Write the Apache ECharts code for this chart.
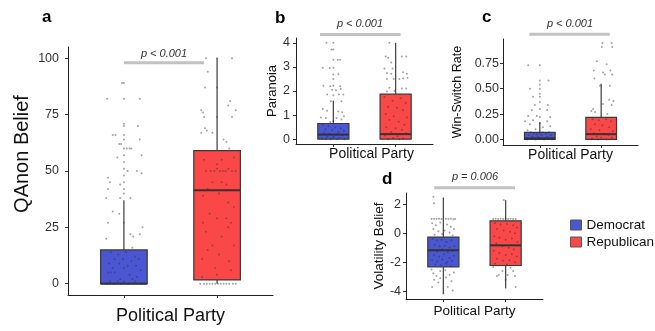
<!DOCTYPE html>
<html><head><meta charset="utf-8">
<script src="https://cdn.jsdelivr.net/npm/echarts@6/dist/echarts.min.js"></script>
<style>html,body{margin:0;padding:0;background:#fff}#c{width:655px;height:331px}</style>
</head><body><div id="c"></div>
<script>
const FONT = '"Liberation Sans", Arial, sans-serif';
const BLUE = '#4a56d2';
const RED = '#fa4848';
const parties = ['Democrat', 'Republican'];
const xTitle = 'Political Party';

// box stats: [x, min, Q1, median, Q3, max]
const qanonBox = [[1, 0, 0, 0, 15, 37], [2, 0, 1.7, 41.5, 59, 100]];
const paranoiaBox = [[1, 0, 0, 0.19, 0.65, 1.6], [2, 0, 0, 0.21, 1.87, 4.0]];
const winSwitchBox = [[1, 0, 0, 0.01, 0.07, 0.17], [2, 0, 0, 0.052, 0.217, 0.55]];
const volatilityBox = [[1, -4.16, -2.31, -1.17, -0.26, 2.46], [2, -3.8, -2.22, -0.83, 0.86, 2.29]];

// tick values
const qanonTicks = [0, 25, 50, 75, 100];
const paranoiaTicks = [0, 1, 2, 3, 4];
const winSwitchTicks = [0, 0.25, 0.5, 0.75];
const volatilityTicks = [-4, -2, 0, 2];

// p-values
const pLabels = ['p < 0.001', 'p < 0.001', 'p < 0.001', 'p = 0.006'];

// significance bars [x, y]
const qanonSig = [[1.0, 98], [1.86, 98]];
const paranoiaSig = [[0.785, 4.35], [2.08, 4.35]];
const winSwitchSig = [[0.83, 1.036], [2.14, 1.036]];
const volatilitySig = [[0.854, 3.15], [2.15, 3.15]];

// jittered individual points [x, value]
const qanonDemPts = [[0.98,89],[1.0,89],[0.82,82],[1.0,82],[1.17,82],[1.0,71],[1.0,70],[1.15,70],[0.88,66],[0.91,66],[1.0,66],[1.0,64],[1.17,64],[0.95,62],[0.97,62],[1.0,60],[1.03,60],[1.06,60],[1.08,60],[1.0,57],[1.19,57],[0.93,56],[1.0,54],[1.0,51],[1.04,50],[1.14,50],[1.19,49],[1.0,48],[0.83,47],[0.85,45],[1.0,45],[0.96,44],[0.83,42],[1.0,42],[1.0,40],[0.81,38],[0.96,38],[1.07,38],[0.88,32],[0.95,31],[0.83,27],[1.0,27],[1.2,25],[1.07,22],[1.17,22],[1.1,21],[0.81,20],[1.09,16],
[0.86,14],[0.94,13],[1.02,14],[1.12,12],[0.9,11],[0.99,11],[1.08,10],[1.16,11],[0.84,9],[0.95,9],[1.04,8],[1.13,8],[0.88,7],[1.0,7],[1.18,6],[0.83,5],[0.86,5],[0.9,5],[1.06,4],[1.14,3],[0.96,2],[1.09,2],[0.85,1],[0.93,1],[1.0,1],[1.12,1],[1.19,0],[0.82,0],[0.9,0],[1.05,0],[0.97,0]];
const qanonRepPts = [[1.88,100],[2.0,100],[2.16,100],[1.9,94],[1.87,87],[2.0,87],[2.14,81],[2.12,79],[1.83,77],[1.85,76],[2.2,77],[1.86,74],[2.0,74],[2.16,74],[1.87,69],[1.89,68],[1.95,67],[1.83,67],[2.07,64],[2.1,63],[2.13,60],
[1.86,55],[2.0,53],[2.05,55],[2.18,56],[1.88,50],[1.93,50],[1.97,50],[2.0,51],[2.03,50],[2.06,50],[2.09,50],[2.12,51],[2.16,50],[2.2,50],[1.95,45],[2.05,45],[2.1,44],[1.9,42],[2.02,40],[1.85,39],[2.12,36],[2.18,34],[1.92,31],[2.0,29],[2.1,29],[1.85,27],[2.15,27],[2.12,25],[1.88,23],[2.05,21],[1.95,17],[2.18,17],[1.9,15],[2.02,13],[1.84,11],[2.13,10],[1.98,7],[2.15,6],[1.84,3],[2.0,4],
[1.82,0],[1.86,0],[1.89,0],[1.92,0],[1.95,0],[1.98,0],[2.01,0],[2.04,0],[2.07,0],[2.1,0],[2.13,0],[2.17,0],[2.2,0]];
const paranoiaDemPts = [[0.89,4.0],[1.0,4.0],[0.97,3.72],[1.0,3.72],[1.0,3.3],[1.07,3.3],[1.11,3.3],[0.83,2.97],[0.94,2.95],[1.0,2.97],[1.0,2.68],[1.08,2.7],[1.0,2.5],[0.84,2.22],[0.95,2.2],[1.0,2.22],[1.11,2.2],[0.98,2.05],[1.04,2.03],[1.12,2.08],[0.9,1.85],[1.0,1.82],[1.09,1.85],[1.16,1.85],[0.96,1.57],[1.13,1.57],[0.83,1.25],[0.9,1.18],[1.08,1.15],[1.14,1.12],[0.8,0.9],[0.88,0.88],[1.05,0.88],[1.13,0.82],[1.17,0.95],[1.0,0.75],[0.95,0.7],
[0.83,0.6],[0.92,0.55],[1.03,0.5],[1.12,0.45],[0.87,0.4],[0.98,0.38],[1.08,0.3],[1.17,0.35],[0.85,0.25],[0.94,0.22],[1.05,0.2],[1.15,0.15],[0.9,0.1],[1.0,0.08],[1.1,0.05],[0.82,0.03],[0.96,0.0],[1.06,0.0],[1.18,0.0],[0.88,0.0]];
const paranoiaRepPts = [[1.9,4.0],[1.84,3.43],[1.88,3.38],[2.1,3.43],[2.17,3.43],[1.93,3.18],[1.82,2.93],[1.95,2.93],[1.86,2.75],[1.93,2.72],[2.12,2.78],[2.18,2.72],[1.86,2.5],[1.97,2.5],[2.06,2.5],[2.12,2.52],[2.19,2.55],[1.9,2.14],[2.1,2.1],[2.17,2.1],[1.98,2.0],[1.86,1.98],
[1.82,1.75],[1.95,1.6],[2.08,1.7],[2.16,1.5],[1.88,1.35],[2.02,1.3],[2.12,1.2],[1.84,1.05],[1.97,0.95],[2.18,0.9],[1.9,0.8],[2.05,0.72],[2.14,0.6],[1.85,0.5],[2.0,0.45],[2.1,0.38],[1.93,0.3],[2.17,0.25],[1.83,0.15],[2.03,0.12],[1.96,0.05],[2.12,0.03],[1.88,0.0],[2.06,0.0]];
const winSwitchDemPts = [[0.81,0.73],[1.0,0.73],[1.0,0.58],[1.14,0.58],[1.0,0.54],[0.84,0.5],[1.0,0.5],[1.0,0.45],[1.0,0.42],[0.89,0.42],[1.0,0.37],[0.92,0.34],[1.13,0.34],[1.0,0.3],[0.87,0.29],[1.12,0.29],[0.81,0.23],[0.95,0.23],[1.0,0.22],[1.17,0.22],[0.89,0.19],[1.12,0.18],[0.76,0.18],[1.0,0.16],[0.84,0.15],[1.17,0.13],[1.05,0.12],[0.93,0.1],[0.8,0.09],
[0.85,0.07],[0.9,0.06],[0.95,0.05],[1.0,0.06],[1.05,0.07],[1.1,0.06],[1.15,0.07],[0.82,0.04],[0.88,0.03],[0.97,0.03],[1.03,0.04],[1.12,0.03],[1.18,0.04],[0.86,0.01],[0.93,0.0],[1.0,0.01],[1.07,0.0],[1.14,0.01],[0.8,0.0],[1.2,0.0]];
const winSwitchRepPts = [[2.02,0.95],[2.17,0.95],[2.01,0.91],[2.18,0.91],[1.93,0.77],[2.09,0.74],[1.88,0.68],[2.15,0.68],[2.03,0.66],[2.06,0.64],[2.18,0.64],[1.89,0.6],[1.98,0.53],[2.14,0.53],[2.13,0.39],[2.2,0.38],[2.03,0.35],[2.17,0.34],[1.87,0.3],[1.9,0.27],[1.84,0.28],[2.1,0.25],
[1.86,0.2],[1.96,0.19],[2.08,0.2],[2.16,0.18],[1.9,0.15],[2.02,0.14],[2.13,0.12],[1.83,0.1],[1.97,0.09],[2.19,0.08],[1.88,0.06],[2.05,0.05],[2.12,0.04],[1.93,0.03],[2.0,0.02],[2.17,0.02],[1.85,0.01],[2.09,0.0],[1.95,0.0]];
const volatilityDemPts = [[0.84,2.52],[0.85,2.07],[0.81,0.99],[0.85,1.0],[0.89,0.98],[0.93,1.0],[0.97,0.99],[1.04,1.0],[1.08,0.98],[1.12,1.0],[1.16,0.97],[1.19,0.99],
[0.82,0.7],[0.88,0.55],[0.95,0.75],[1.06,0.6],[1.12,0.45],[1.17,0.3],[0.84,0.3],[0.92,0.15],[1.02,0.2],[1.1,0.05],[0.86,-0.1],[0.98,-0.05],[1.15,-0.15],
[0.83,-0.4],[0.9,-0.5],[0.97,-0.45],[1.05,-0.6],[1.13,-0.5],[0.86,-0.8],[0.94,-0.9],[1.02,-0.85],[1.1,-1.0],[1.18,-0.9],[0.82,-1.15],[0.9,-1.25],[0.98,-1.1],[1.07,-1.3],[1.15,-1.2],[0.85,-1.5],[0.93,-1.6],[1.01,-1.45],[1.1,-1.7],[1.17,-1.55],[0.82,-1.85],[0.9,-1.95],[0.98,-1.8],[1.06,-2.0],[1.14,-1.9],[0.87,-2.15],[0.96,-2.2],[1.04,-2.1],[1.12,-2.25],
[0.81,-2.5],[0.84,-2.75],[0.89,-2.95],[0.95,-2.6],[1.03,-2.55],[1.1,-2.85],[1.17,-2.7],[0.85,-3.2],[0.92,-3.4],[0.82,-3.7],[1.07,-3.7],[1.13,-3.3],[1.15,-3.95],[1.0,-4.15],[0.95,-3.1],[1.04,-3.05]];
const volatilityRepPts = [[1.97,2.29],[1.8,0.99],[1.84,1.0],[1.88,0.98],[1.92,1.0],[1.96,0.99],[2.0,1.0],[2.04,0.98],[2.08,1.0],[2.12,0.99],[2.16,0.98],
[1.83,0.7],[1.92,0.6],[2.02,0.65],[2.12,0.55],[2.18,0.4],[1.86,0.3],[1.97,0.2],[2.07,0.1],[2.15,0.0],[1.82,-0.2],[1.9,-0.3],[2.0,-0.45],[2.1,-0.35],[2.19,-0.6],[1.85,-0.7],[1.95,-0.9],[2.05,-1.0],[2.13,-1.1],[1.81,-1.2],[1.9,-1.35],[2.0,-1.5],[2.1,-1.45],[2.18,-1.6],[1.86,-1.75],[1.96,-1.9],[2.06,-1.85],[2.15,-2.0],[1.83,-2.1],[2.02,-2.15],
[1.8,-2.33],[1.86,-2.95],[1.89,-2.88],[2.03,-2.88],[2.08,-2.38],[2.15,-2.95],[2.16,-3.7],[1.95,-2.6],[2.0,-3.2],[2.12,-2.6]];

const panels = [
  {grid:{left:68, top:47, width:205, height:248}, yMin:-5, yMax:105, ticks:qanonTicks, fmt:v=>String(v), yName:'QAnon Belief', yNameSize:20, yNameGap:36, yPad:[0,0,0,34], xNameSize:18, xNameGap:12, xPad:[0,0,0,0], labelSize:12.5, labelMargin:9, box:qanonBox, dem:qanonDemPts, rep:qanonRepPts, sig:qanonSig},
  {grid:{left:296, top:38, width:137, height:106}, yMin:-0.2, yMax:4.2, ticks:paranoiaTicks, fmt:v=>String(v), yName:'Paranoia', yNameSize:13, yNameGap:17, yPad:[0,0,0,0], xNameSize:14, xNameGap:3, xPad:[0,0,0,14], labelSize:12.5, labelMargin:6, box:paranoiaBox, dem:paranoiaDemPts, rep:paranoiaRepPts, sig:paranoiaSig},
  {grid:{left:503, top:39, width:135, height:106}, yMin:-0.055, yMax:0.99, ticks:winSwitchTicks, fmt:v=>v.toFixed(2), yName:'Win-Switch Rate', yNameSize:12.5, yNameGap:39, yPad:[0,0,0,0], xNameSize:14, xNameGap:3, xPad:[0,0,0,0], labelSize:12.5, labelMargin:4, box:winSwitchBox, dem:winSwitchDemPts, rep:winSwitchRepPts, sig:winSwitchSig},
  {grid:{left:406, top:193, width:137, height:106}, yMin:-4.53, yMax:2.78, ticks:volatilityTicks, fmt:v=>String(v), yName:'Volatility Belief', yNameSize:13.5, yNameGap:20, yPad:[0,0,0,0], xNameSize:13.5, xNameGap:5, xPad:[0,0,0,0], labelSize:12.5, labelMargin:5, box:volatilityBox, dem:volatilityDemPts, rep:volatilityRepPts, sig:volatilitySig}
];

const BOX_W = 0.5;
function boxRender(params, api) {
  const x = api.value(0);
  const lo = api.coord([x, api.value(1)]);
  const q1 = api.coord([x, api.value(2)]);
  const md = api.coord([x, api.value(3)]);
  const q3 = api.coord([x, api.value(4)]);
  const hi = api.coord([x, api.value(5)]);
  const hw = api.size([BOX_W, 0])[0] / 2;
  const fill = api.visual('color');
  return {type:'group', children:[
    {type:'line', shape:{x1:hi[0], y1:hi[1], x2:q3[0], y2:q3[1]}, style:{stroke:'#4a4a4a', lineWidth:1.3}},
    {type:'line', shape:{x1:q1[0], y1:q1[1], x2:lo[0], y2:lo[1]}, style:{stroke:'#4a4a4a', lineWidth:1.3}},
    {type:'rect', shape:{x:q3[0]-hw, y:q3[1], width:2*hw, height:Math.max(q1[1]-q3[1], 0.5)}, style:{fill:fill, stroke:'#3a3a3a', lineWidth:1.2}},
    {type:'line', shape:{x1:md[0]-hw, y1:md[1], x2:md[0]+hw, y2:md[1]}, style:{stroke:'#333', lineWidth:2}}
  ]};
}

const grids = [], xAxes = [], yAxes = [], series = [];
panels.forEach((p, i) => {
  grids.push(Object.assign({containLabel:false}, p.grid));
  xAxes.push({gridIndex:i, type:'value', min:0.4, max:2.6,
    axisLine:{show:true, onZero:false, lineStyle:{color:'#222', width:1}},
    axisTick:{show:true, customValues:[1, 2], length:3, lineStyle:{color:'#333'}},
    axisLabel:{show:false}, splitLine:{show:false},
    name:xTitle, nameLocation:'middle', nameGap:p.xNameGap,
    nameTextStyle:{fontFamily:FONT, fontSize:p.xNameSize, color:'#111', padding:p.xPad, verticalAlign:'top'}});
  yAxes.push({gridIndex:i, type:'value', min:p.yMin, max:p.yMax,
    axisLine:{show:true, onZero:false, lineStyle:{color:'#222', width:1}},
    axisTick:{show:true, customValues:p.ticks, length:3, lineStyle:{color:'#333'}},
    axisLabel:{customValues:p.ticks, formatter:p.fmt, fontFamily:FONT, fontSize:p.labelSize, color:'#333', margin:p.labelMargin},
    splitLine:{show:false},
    name:p.yName, nameLocation:'middle', nameGap:p.yNameGap,
    nameTextStyle:{fontFamily:FONT, fontSize:p.yNameSize, color:'#111', padding:p.yPad}});
  series.push({type:'line', xAxisIndex:i, yAxisIndex:i, data:p.sig, symbol:'none', clip:false, silent:true,
    lineStyle:{color:'#c2c2c2', width:3}, z:1});
  series.push({type:'custom', name:parties[0], xAxisIndex:i, yAxisIndex:i, data:[p.box[0]], renderItem:boxRender,
    encode:{x:0, y:[1,2,3,4,5]}, itemStyle:{color:BLUE}, z:2, silent:true});
  series.push({type:'custom', name:parties[1], xAxisIndex:i, yAxisIndex:i, data:[p.box[1]], renderItem:boxRender,
    encode:{x:0, y:[1,2,3,4,5]}, itemStyle:{color:RED}, z:2, silent:true});
  series.push({type:'scatter', name:'pts', xAxisIndex:i, yAxisIndex:i, data:p.dem.concat(p.rep), symbolSize:2,
    itemStyle:{color:'rgba(45,45,45,0.55)'}, z:3, silent:true});
});

const letters = [
  {t:'a', x:42, y:9}, {t:'b', x:275, y:10}, {t:'c', x:482, y:9}, {t:'d', x:382, y:171}
];
const pPos = [[164, 53.5], [360, 23.5], [570, 23.5], [475, 177]];
const graphic = [];
letters.forEach(l => graphic.push({type:'text', left:l.x, top:l.y, silent:true,
  style:{text:l.t, font:'bold 17px ' + FONT, fill:'#000'}}));
pPos.forEach((pp, i) => graphic.push({type:'text', x:pp[0], y:pp[1], silent:true,
  style:{text:pLabels[i], font:'italic 11px ' + FONT, fill:'#333', align:'center', verticalAlign:'middle', textAlign:'center', textVerticalAlign:'middle'}}));

const chart = echarts.init(document.getElementById('c'), null, {renderer:'canvas'});
chart.setOption({
  animation:false,
  backgroundColor:'#fff',
  grid:grids, xAxis:xAxes, yAxis:yAxes, series:series, graphic:graphic,
  legend:{data:parties.map(n => ({name:n})), orient:'vertical', left:570, top:217, padding:0, icon:'rect',
    itemWidth:11, itemHeight:10, itemGap:1,
    itemStyle:{borderColor:'#555', borderWidth:1},
    textStyle:{fontFamily:FONT, fontSize:13.5, color:'#111', lineHeight:16}, selectedMode:false}
});
</script></body></html>
